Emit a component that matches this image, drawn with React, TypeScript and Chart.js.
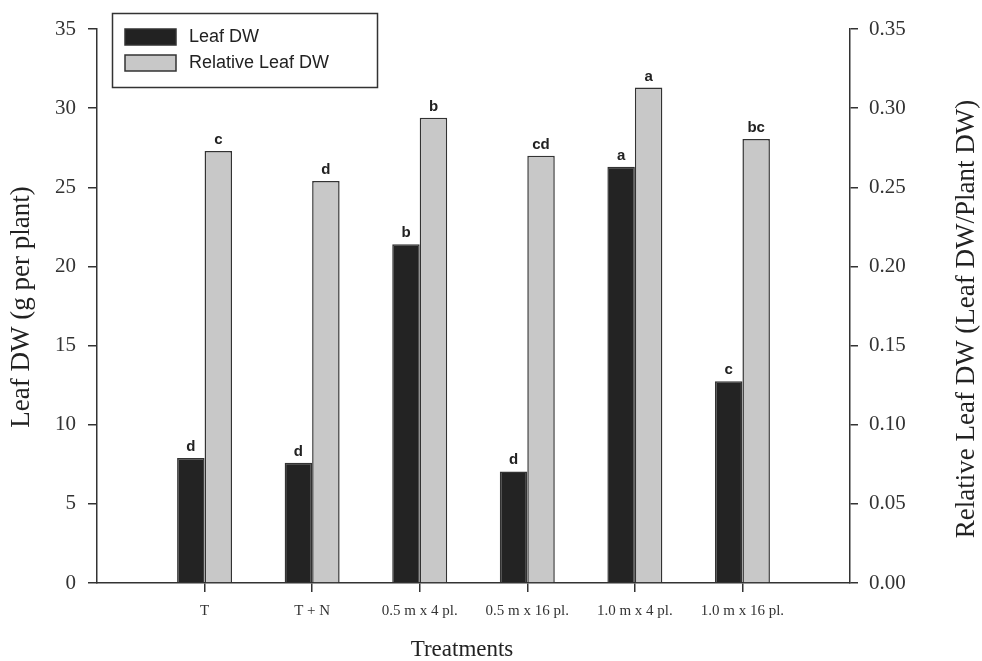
import React, { useEffect, useRef } from "react";
import { Chart, registerables } from "chart.js";

Chart.register(...registerables);

const categories = ["", "T", "T + N", "0.5 m x 4 pl.", "0.5 m x 16 pl.", "1.0 m x 4 pl.", "1.0 m x 16 pl.", ""];
const leafDW = [null, 7.9, 7.6, 21.4, 7.05, 26.3, 12.75, null];
const relativeLeafDW = [null, 0.273, 0.254, 0.294, 0.27, 0.313, 0.2805, null];
const leafLetters = ["", "d", "d", "b", "d", "a", "c", ""];
const relLetters = ["", "c", "d", "b", "cd", "a", "bc", ""];
const leftTicksMax = 35;
const rightTicksMax = 0.35;

const AXIS = "#333333";
const SERIF = "'Liberation Serif', 'DejaVu Serif', serif";
const SANS = "'Liberation Sans', Arial, sans-serif";

const annotations = {
  id: "annotations",
  afterDatasetsDraw(chart: any) {
    const ctx = chart.ctx;
    ctx.save();
    ctx.fillStyle = "#222";
    ctx.font = `bold 15px ${SANS}`;
    ctx.textAlign = "center";
    ctx.textBaseline = "alphabetic";
    const letterSets = [leafLetters, relLetters];
    chart.data.datasets.forEach((ds: any, di: number) => {
      const meta = chart.getDatasetMeta(di);
      meta.data.forEach((el: any, i: number) => {
        const t = letterSets[di][i];
        if (!t || ds.data[i] == null) return;
        ctx.fillText(t, el.x, el.y - 7);
      });
    });
    ctx.restore();
  },
  afterDraw(chart: any) {
    const ctx = chart.ctx;
    ctx.save();
    // Legend box
    ctx.strokeStyle = AXIS;
    ctx.lineWidth = 1.5;
    ctx.strokeRect(112.5, 13.5, 265, 74);
    const items = [
      { label: "Leaf DW", color: "#222222" },
      { label: "Relative Leaf DW", color: "#c8c8c8" },
    ];
    items.forEach((it, i) => {
      const y = 29 + i * 26;
      ctx.fillStyle = it.color;
      ctx.fillRect(125, y, 51, 16);
      ctx.strokeStyle = AXIS;
      ctx.lineWidth = 1.5;
      ctx.strokeRect(125, y, 51, 16);
      ctx.fillStyle = "#222";
      ctx.font = `18px ${SANS}`;
      ctx.textAlign = "left";
      ctx.textBaseline = "middle";
      ctx.fillText(it.label, 189, y + 8);
    });
    // Axis titles
    ctx.fillStyle = "#222";
    ctx.textAlign = "center";
    ctx.textBaseline = "middle";
    ctx.font = `27px ${SERIF}`;
    ctx.save();
    ctx.translate(22, 307);
    ctx.rotate(-Math.PI / 2);
    ctx.fillText("Leaf DW (g per plant)", 0, 0);
    ctx.restore();
    ctx.save();
    ctx.translate(967, 319);
    ctx.rotate(-Math.PI / 2);
    ctx.fillText("Relative Leaf DW (Leaf DW/Plant DW)", 0, 0);
    ctx.restore();
    ctx.font = `23px ${SERIF}`;
    ctx.fillText("Treatments", 462, 650);
    ctx.restore();
  },
};

export default function App() {
  const ref = useRef<HTMLCanvasElement>(null);
  useEffect(() => {
    document.body.style.margin = "0";
    const chart = new Chart(ref.current!, {
      type: "bar",
      data: {
        labels: categories,
        datasets: [
          {
            label: "Leaf DW",
            data: leafDW as any,
            yAxisID: "y",
            backgroundColor: "#232323",
            borderColor: AXIS,
            borderWidth: 1.5,
            categoryPercentage: 0.511,
            barPercentage: 1,
          },
          {
            label: "Relative Leaf DW",
            data: relativeLeafDW as any,
            yAxisID: "y2",
            backgroundColor: "#c8c8c8",
            borderColor: AXIS,
            borderWidth: 1.5,
            categoryPercentage: 0.511,
            barPercentage: 1,
          },
        ],
      },
      options: {
        animation: false,
        responsive: false,
        maintainAspectRatio: false,
        layout: { padding: { top: 29, bottom: 0, left: 0, right: 0 } },
        plugins: { legend: { display: false }, tooltip: { enabled: false } },
        scales: {
          x: {
            type: "category",
            offset: false,
            grid: {
              display: true,
              offset: false,
              drawOnChartArea: false,
              drawTicks: true,
              tickLength: 9,
              lineWidth: 1.5,
              color: (c: any) =>
                c.index === 0 || c.index === categories.length - 1 ? "rgba(0,0,0,0)" : AXIS,
            },
            border: { display: true, color: AXIS, width: 1.5 },
            ticks: {
              color: "#333",
              font: { family: SERIF, size: 15 },
              padding: 10,
              maxRotation: 0,
              autoSkip: false,
            },
            afterFit: (s: any) => {
              s.height = 78;
            },
          },
          y: {
            position: "left",
            min: 0,
            max: leftTicksMax,
            ticks: {
              stepSize: 5,
              color: "#333",
              font: { family: SERIF, size: 21 },
              padding: 12,
            },
            grid: { drawOnChartArea: false, tickLength: 9, color: AXIS, lineWidth: 1.5 },
            border: { display: true, color: AXIS, width: 1.5 },
            afterFit: (s: any) => {
              s.width = 97;
            },
          },
          y2: {
            position: "right",
            min: 0,
            max: rightTicksMax,
            ticks: {
              stepSize: 0.05,
              color: "#333",
              font: { family: SERIF, size: 21 },
              padding: 11,
              callback: (v: any) => Number(v).toFixed(2),
            },
            grid: { drawOnChartArea: false, tickLength: 8, color: AXIS, lineWidth: 1.5 },
            border: { display: true, color: AXIS, width: 1.5 },
            afterFit: (s: any) => {
              s.width = 132;
            },
          },
        },
      },
      plugins: [annotations],
    });
    return () => chart.destroy();
  }, []);
  return (
    <div style={{ position: "absolute", left: 0, top: 0, width: 982, height: 661, background: "#fff" }}>
      <canvas ref={ref} width={982} height={661} style={{ width: 982, height: 661 }} />
    </div>
  );
}
